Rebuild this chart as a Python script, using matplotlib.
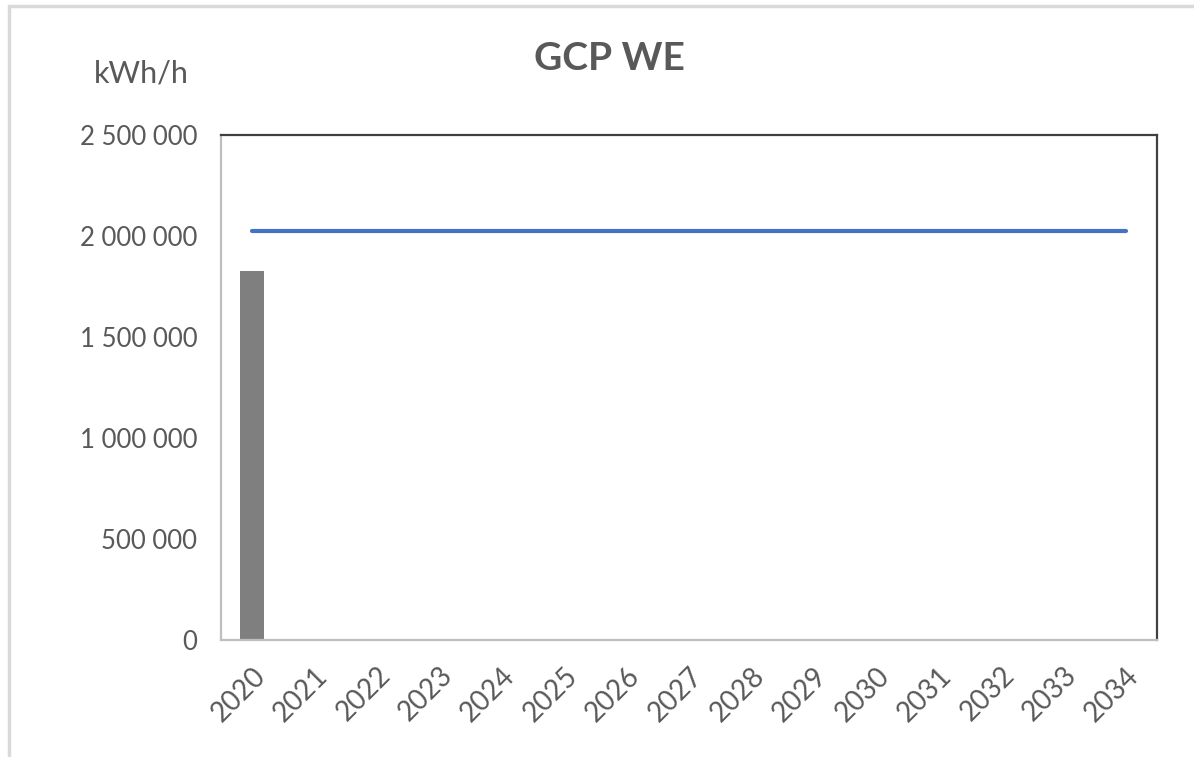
import matplotlib
matplotlib.use('Agg')
import matplotlib.pyplot as plt
from matplotlib.patches import Rectangle
from matplotlib.ticker import FuncFormatter

years = [str(y) for y in range(2020, 2035)]
bar_values = [1825000, 0, 0, 0, 0, 0, 0, 0, 0, 0, 0, 0, 0, 0, 0]
line_values = [2025000] * 15

TEXT = '#595959'
plt.rcParams['font.family'] = ['Lato', 'DejaVu Sans']

fig = plt.figure(figsize=(11.94, 7.57), dpi=100)
# light grey chart-area frame (only top/left visible in the reference)
fig.patches.append(Rectangle((9 / 1194, -0.5), 2, 1.5 - 6 / 757,
                             transform=fig.transFigure, fill=False,
                             edgecolor='#d9d9d9', linewidth=2.5))

ax = fig.add_axes([221 / 1194, 117 / 757, 936 / 1194, 505 / 757])
x = list(range(len(years)))
ax.bar(x, bar_values, width=0.385, color='#7f7f7f', zorder=2)
ax.plot(x, line_values, color='#4472c4', linewidth=3, solid_capstyle='round',
        zorder=3)

ax.set_xlim(-0.5, len(years) - 0.5)
ax.set_ylim(0, 2500000)
ax.set_yticks([0, 500000, 1000000, 1500000, 2000000, 2500000])
ax.yaxis.set_major_formatter(
    FuncFormatter(lambda v, p: '{:,.0f}'.format(v).replace(',', ' ')))
ax.set_xticks(x)
ax.set_xticklabels(years, rotation=45, ha='right', rotation_mode='anchor')

ax.tick_params(axis='y', length=0, pad=17, labelsize=18.5, labelcolor=TEXT)
ax.tick_params(axis='x', length=0, pad=16, labelsize=20, labelcolor=TEXT)

for side in ('top', 'right'):
    ax.spines[side].set_color('#404040')
    ax.spines[side].set_linewidth(1.6)
for side in ('left', 'bottom'):
    ax.spines[side].set_color('#bfbfbf')
    ax.spines[side].set_linewidth(1.6)

fig.text(609 / 1194, 1 - 58 / 757, 'GCP WE', ha='center', va='center',
         fontsize=28, fontweight='bold', color=TEXT)
fig.text(141 / 1194, 1 - 73 / 757, 'kWh/h', ha='center', va='center',
         fontsize=22, color=TEXT)

fig.savefig('out.png', dpi=100, facecolor='white')
